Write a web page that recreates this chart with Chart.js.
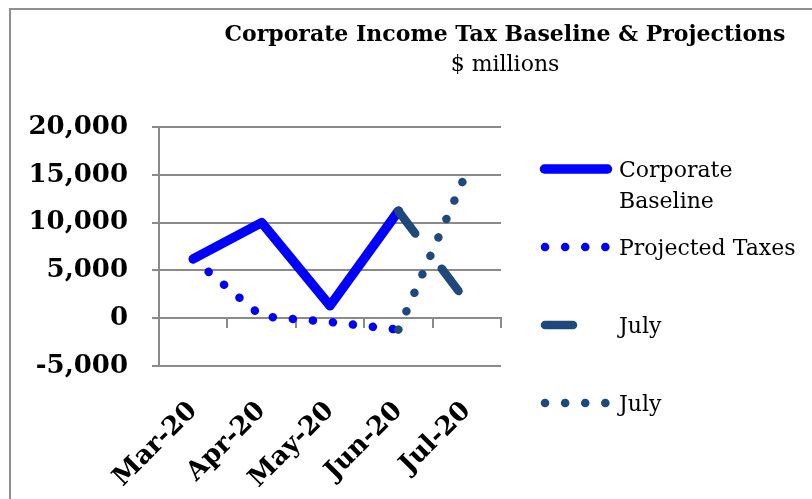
<!DOCTYPE html>
<html><head><meta charset="utf-8">
<script src="https://cdn.jsdelivr.net/npm/chart.js@4"></script>
<style>
html,body{margin:0;padding:0;background:#fff;overflow:hidden;width:812px;height:499px;}
#frame{position:absolute;left:9px;top:8px;width:1000px;height:800px;border-left:2px solid #8f8f8f;border-top:2px solid #8f8f8f;}
#wrap{position:absolute;left:0;top:0;width:812px;height:499px;}
</style></head><body>
<div id="frame"></div>
<div id="wrap"><canvas id="c"></canvas></div>
<script>
const labels = ['Mar-20', 'Apr-20', 'May-20', 'Jun-20', 'Jul-20'];
const baseline = [6200, 10000, 1300, 11200, null];
const projected = [6200, 200, -400, -1200, null];
const julyDash = [null, null, null, 11200, 1700];
const julyDot = [null, null, null, -1200, 15300];
const yTicks = [-5000, 0, 5000, 10000, 15000, 20000];
const titleText = 'Corporate Income Tax Baseline & Projections';
const subtitleText = '$ millions';
const seriesNames = ['Corporate Baseline', 'Projected Taxes', 'July', 'July'];

const GRID = '#8a8a8a';
const BLUE = '#0000FF';
const DARK = '#1F497D';

const overlay = {
  id: 'overlay',
  afterDraw(chart) {
    const ctx = chart.ctx;
    ctx.save();
    ctx.fillStyle = '#000';
    ctx.textAlign = 'center';
    ctx.textBaseline = 'alphabetic';
    ctx.font = 'bold 22px "DejaVu Serif"';
    ctx.fillText(titleText, 505, 41);
    ctx.font = '22px "DejaVu Serif"';
    ctx.fillText(subtitleText, 505, 71);

    // legend
    const rows = [169, 247, 325, 403];
    const textLines = [['Corporate', 'Baseline'], [seriesNames[1]], [seriesNames[2]], [seriesNames[3]]];
    const baselines = [[177, 208], [255], [333], [411]];
    chart.data.datasets.forEach((ds, i) => {
      ctx.save();
      ctx.strokeStyle = ds.borderColor;
      ctx.lineWidth = ds.borderWidth;
      ctx.lineCap = 'round';
      ctx.setLineDash(ds.borderDash || []);
      ctx.beginPath();
      const x0 = ds.borderDash ? 545 : 544.5;
      const x1 = ds.borderDash ? 606 : 607.5;
      ctx.moveTo(x0, rows[i]);
      ctx.lineTo(x1, rows[i]);
      ctx.stroke();
      ctx.restore();
      ctx.fillStyle = '#000';
      ctx.textAlign = 'left';
      ctx.font = '22px "DejaVu Serif"';
      textLines[i].forEach((t, k) => ctx.fillText(t, 619, baselines[i][k]));
    });
    ctx.restore();
  }
};

new Chart(document.getElementById('c'), {
  type: 'line',
  data: {
    labels: labels,
    datasets: [
      { label: seriesNames[0], data: baseline, borderColor: BLUE, borderWidth: 9.5,
        borderCapStyle: 'round', borderJoinStyle: 'round', pointRadius: 0, order: 4, fill: false },
      { label: seriesNames[1], data: projected, borderColor: BLUE, borderWidth: 8.5, borderDash: [0.1, 20],
        borderCapStyle: 'round', borderJoinStyle: 'round', pointRadius: 0, order: 3, fill: false },
      { label: seriesNames[2], data: julyDash, borderColor: DARK, borderWidth: 8.5, borderDash: [28, 44],
        borderCapStyle: 'round', borderJoinStyle: 'round', pointRadius: 0, order: 2, fill: false },
      { label: seriesNames[3], data: julyDot, borderColor: DARK, borderWidth: 8.5, borderDash: [0.1, 20],
        borderCapStyle: 'round', borderJoinStyle: 'round', pointRadius: 0, order: 1, fill: false }
    ]
  },
  options: {
    responsive: true,
    maintainAspectRatio: false,
    animation: false,
    events: [],
    layout: { padding: { left: 0, top: 127, right: 311, bottom: 0 } },
    plugins: { legend: { display: false }, tooltip: { enabled: false }, title: { display: false } },
    scales: {
      x: {
        type: 'category', position: 'bottom', offset: true,
        grid: { display: false }, border: { display: false },
        ticks: { autoSkip: false, maxRotation: 45, minRotation: 45, padding: 22, color: '#000',
                 font: { family: 'DejaVu Serif', weight: 'bold', size: 26 } },
        afterFit(s) { s.height = 133; }
      },
      x2: {
        type: 'category', position: { y: 0 }, offset: true,
        grid: { offset: true, drawOnChartArea: false, drawTicks: true, tickLength: 9, color: GRID, lineWidth: 2 },
        border: { display: true, color: GRID, width: 2 },
        ticks: { display: false }
      },
      y: {
        type: 'linear', min: yTicks[0], max: yTicks[yTicks.length - 1],
        afterBuildTicks(s) { s.ticks = yTicks.map(v => ({ value: v })); },
        grid: { color: GRID, lineWidth: 2, drawTicks: true, tickLength: 7 },
        border: { display: true, color: GRID, width: 2 },
        ticks: { padding: 24, color: '#000', font: { family: 'DejaVu Serif', weight: 'bold', size: 26 },
                 callback: v => Number(v).toLocaleString('en-US') },
        afterFit(s) { s.width = 159; }
      }
    }
  },
  plugins: [overlay]
});
</script>
</body></html>
